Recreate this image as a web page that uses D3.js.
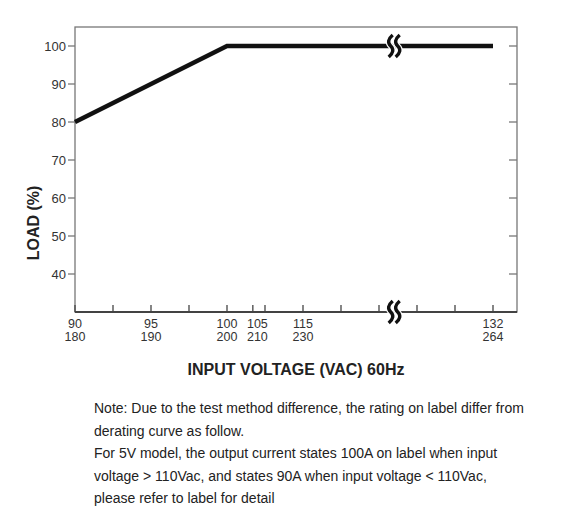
<!DOCTYPE html>
<html><head><meta charset="utf-8">
<script src="https://cdn.jsdelivr.net/npm/d3@7/dist/d3.min.js"></script>
<style>body{margin:0;background:#fff;font-family:Arial,"Liberation Sans",sans-serif}</style>
</head><body><svg id="c" width="562" height="525"></svg>
<script>
// tick slots along x (evenly spaced slots, chart is not to scale)
const xTickSlots = [0,1,2,3,4,4.68,5,6,7,8,9,10,11];
const xLabelSlots = [0,2,4,4.8,6,11];
const xLabelTop = ["90","95","100","105","115","132"];
const xLabelBottom = ["180","190","200","210","230","264"];
const yTicks = [40,50,60,70,80,90,100];
const curveSlots = [0,4,11];
const curveLoad = [80,100,100];
const breakSlot = 8.4;
const notes = ["Note: Due to the test method difference, the rating on label differ from",
"derating curve as follow.",
"For 5V model, the output current states 100A on label when input",
"voltage > 110Vac, and states 90A when input voltage < 110Vac,",
"please refer to label for detail"];

const svg = d3.select("#c");
const L=75,R=517,T=27,B=312;
const x = d3.scaleLinear().domain([0,11]).range([L,493]);
const y = d3.scaleLinear().domain([30,100]).range([B,46]);
const gray="#777";
svg.append("rect").attr("x",L).attr("y",T).attr("width",R-L).attr("height",B-T).attr("fill","none").attr("stroke",gray).attr("stroke-width",1.3);
svg.selectAll(".yt").data(yTicks).join("line").attr("x1",L-7).attr("x2",L).attr("y1",d=>y(d)).attr("y2",d=>y(d)).attr("stroke",gray).attr("stroke-width",1.3);
svg.selectAll(".yr").data(yTicks).join("line").attr("x1",R-8).attr("x2",R).attr("y1",d=>y(d)).attr("y2",d=>y(d)).attr("stroke",gray).attr("stroke-width",1.3);
svg.selectAll(".yl").data(yTicks).join("text").attr("x",L-9).attr("y",d=>y(d)+4.5).attr("text-anchor","end").attr("font-size",13).attr("fill","#333").text(d=>d);
svg.append("line").attr("x1",L).attr("x2",R).attr("y1",B).attr("y2",B).attr("stroke","#222").attr("stroke-width",1.5);
svg.selectAll(".xt").data(xTickSlots).join("line").attr("x1",d=>x(d)).attr("x2",d=>x(d)).attr("y1",B-7).attr("y2",B).attr("stroke","#444").attr("stroke-width",1.3);
xLabelSlots.forEach((s,i)=>{
  svg.append("text").attr("x",x(s)).attr("y",B+16).attr("text-anchor","middle").attr("font-size",12.5).attr("fill","#333").text(xLabelTop[i]);
  svg.append("text").attr("x",x(s)).attr("y",B+29).attr("text-anchor","middle").attr("font-size",12.5).attr("fill","#333").text(xLabelBottom[i]);
});
svg.append("path").attr("d",d3.line().x((d,i)=>x(curveSlots[i])).y(d=>y(d))(curveLoad)).attr("fill","none").attr("stroke","#111").attr("stroke-width",4.5);
function brk(cx,cy){
  const p=dx=>`M${cx+dx+2},${cy-11} Q${cx+dx-5},${cy-5} ${cx+dx},${cy} Q${cx+dx+5},${cy+5} ${cx+dx-2},${cy+11}`;
  [-3.5,3.5].forEach(dx=>svg.append("path").attr("d",p(dx)).attr("fill","none").attr("stroke","#fff").attr("stroke-width",6));
  [-3.5,3.5].forEach(dx=>svg.append("path").attr("d",p(dx)).attr("fill","none").attr("stroke","#111").attr("stroke-width",3.4));
}
brk(x(breakSlot),y(100));
brk(x(breakSlot),B);
svg.append("text").attr("transform",`translate(39,${(y(40)+y(70))/2+6}) rotate(-90)`).attr("text-anchor","middle").attr("font-size",16).attr("font-weight","bold").attr("fill","#222").text("LOAD (%)");
svg.append("text").attr("x",296).attr("y",375).attr("text-anchor","middle").attr("font-size",16).attr("font-weight","bold").attr("fill","#222").text("INPUT VOLTAGE (VAC) 60Hz");
notes.forEach((t,i)=>svg.append("text").attr("x",94).attr("y",413+i*22.5).attr("font-size",14).attr("fill","#222").text(t));
</script></body></html>
